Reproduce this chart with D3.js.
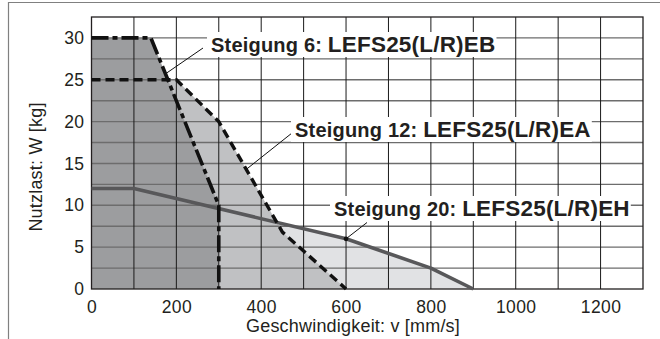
<!DOCTYPE html>
<html>
<head>
<meta charset="utf-8">
<script src="https://cdn.jsdelivr.net/npm/d3@7"></script>
<style>
  html, body { margin: 0; padding: 0; background: #fff; }
  svg { display: block; font-family: "Liberation Sans", Arial, Helvetica, sans-serif; }
</style>
</head>
<body>
<svg id="chart" width="660" height="339"></svg>
<script>
// ---------- data ----------
const xTicks = [0, 200, 400, 600, 800, 1000, 1200];
const yTicks = [0, 5, 10, 15, 20, 25, 30];
const xGrid = [100, 200, 300, 400, 500, 600, 700, 800, 900, 1000, 1100, 1200];
const yGrid = [2.5, 5, 7.5, 10, 12.5, 15, 17.5, 20, 22.5, 25, 27.5, 30];

// Steigung 6: LEFS25(L/R)EB  (speed mm/s, payload kg)
const ebSpeed = [0, 140, 300, 300];
const ebLoad  = [30, 30, 10, 0];
// Steigung 12: LEFS25(L/R)EA
const eaSpeed = [0, 200, 300, 450, 600];
const eaLoad  = [25, 25, 20, 6.8, 0];
// Steigung 20: LEFS25(L/R)EH
const ehSpeed = [0, 100, 600, 800, 900];
const ehLoad  = [12, 12, 6, 2.5, 0];

const labelLead  = ["Steigung 6: ", "Steigung 12: ", "Steigung 20: "];
const labelModel = ["LEFS25(L/R)EB", "LEFS25(L/R)EA", "LEFS25(L/R)EH"];
// point on each curve the leader line points to (speed, load)
const leaderSpeed = [177, 365, 600];
const leaderLoad  = [25.8, 14.3, 6];

const xTitle = "Geschwindigkeit: v [mm/s]";
const yTitle = "Nutzlast: W [kg]";

// ---------- layout ----------
const svg = d3.select("#chart");
const x = d3.scaleLinear().domain([0, 1300]).range([91.5, 643]);
const y = d3.scaleLinear().domain([0, 32.5]).range([289, 17]);

// label placement (pixels): text start x, baseline y, leader start
const labelPos = [
  { tx: 211, ty: 52,  lx: 203, ly: 48 },
  { tx: 295, ty: 137, lx: 292, ly: 133 },
  { tx: 334, ty: 216, lx: 367, ly: 222.5 }
];

const zip = (a, b) => a.map((v, i) => [v, b[i]]);
const eb = zip(ebSpeed, ebLoad), ea = zip(eaSpeed, eaLoad), eh = zip(ehSpeed, ehLoad);

// outer frame (top + left)
svg.append("path").attr("d", "M8.5,339 V2.5 H660")
  .attr("fill", "none").attr("stroke", "#808080").attr("stroke-width", 1.2);

const area = d3.area().x(d => x(d[0])).y0(y(0)).y1(d => y(d[1]));
const line = d3.line().x(d => x(d[0])).y(d => y(d[1]));

svg.append("path").datum(eh).attr("d", area).attr("fill", "#e1e2e4");
svg.append("path").datum(ea).attr("d", area).attr("fill", "#c0c1c3");
svg.append("path").datum(eb.slice(0, 3)).attr("d", area).attr("fill", "#9c9d9f");

// grid
const g = svg.append("g");
g.selectAll("line.h").data(yGrid).join("line")
  .attr("x1", x(0)).attr("x2", x(1300))
  .attr("y1", d => y(d)).attr("y2", d => y(d))
  .attr("stroke", "#6d6d6d").attr("stroke-width", 1.4);
g.selectAll("line.v").data(xGrid).join("line")
  .attr("y1", y(0)).attr("y2", y(32.5))
  .attr("x1", d => x(d)).attr("x2", d => x(d))
  .attr("stroke", "#1a1a1a").attr("stroke-width", 1);

// plot border
svg.append("rect").attr("x", x(0)).attr("y", y(32.5))
  .attr("width", x(1300) - x(0)).attr("height", y(0) - y(32.5))
  .attr("fill", "none").attr("stroke", "#231f20").attr("stroke-width", 1.3);

// axes (no tick marks, labels only)
const xAxis = d3.axisBottom(x).tickValues(xTicks).tickFormat(d3.format("d")).tickSize(0).tickPadding(12);
const yAxis = d3.axisLeft(y).tickValues(yTicks).tickFormat(d3.format("d")).tickSize(0).tickPadding(7);
const gx = svg.append("g").attr("transform", `translate(0,${y(0)})`).call(xAxis);
const gy = svg.append("g").attr("transform", `translate(${x(0)},0)`).call(yAxis);
[gx, gy].forEach(a => {
  a.select(".domain").remove();
  a.selectAll("text").attr("font-family", "Liberation Sans, Arial, sans-serif")
    .attr("font-size", 17.5).attr("letter-spacing", 0.4).attr("fill", "#231f20");
});
gx.selectAll("text").attr("dy", "0.71em");

// curves
svg.append("path").datum(eh).attr("d", line).attr("fill", "none")
  .attr("stroke", "#58585a").attr("stroke-width", 3.6).attr("stroke-linejoin", "round");
svg.append("path").datum(ea).attr("d", line).attr("fill", "none")
  .attr("stroke", "#111").attr("stroke-width", 3.4).attr("stroke-dasharray", "9,5");
svg.append("path").datum(eb).attr("d", line).attr("fill", "none")
  .attr("stroke", "#111").attr("stroke-width", 3.6).attr("stroke-dasharray", "17,4,5,4");

// annotations
labelPos.forEach((p, i) => {
  const grp = svg.append("g");
  const tx = x(leaderSpeed[i]), ty = y(leaderLoad[i]);
  grp.append("line").attr("x1", p.lx).attr("y1", p.ly).attr("x2", tx).attr("y2", ty)
    .attr("stroke", "#111").attr("stroke-width", 1);
  if (i === 2) grp.append("circle").attr("cx", tx).attr("cy", ty).attr("r", 2.4).attr("fill", "#111");
  const box = grp.append("rect").attr("fill", "#fff");
  const t = grp.append("text").attr("x", p.tx).attr("y", p.ty)
    .attr("font-weight", "bold").attr("fill", "#231f20").attr("letter-spacing", 0.2);
  t.append("tspan").attr("font-size", 20).text(labelLead[i]);
  t.append("tspan").attr("font-size", 22.5).text(labelModel[i]);
  const bb = t.node().getBBox();
  box.attr("x", bb.x - 4).attr("y", bb.y).attr("width", bb.width + 5).attr("height", bb.height);
});

// axis titles
svg.append("text").attr("x", 353).attr("y", 332).attr("text-anchor", "middle")
  .attr("font-size", 18).attr("letter-spacing", 0.2).attr("fill", "#231f20").text(xTitle);
svg.append("text").attr("transform", "translate(42,167) rotate(-90)").attr("text-anchor", "middle")
  .attr("font-size", 18).attr("letter-spacing", 0.2).attr("fill", "#231f20").text(yTitle);
</script>
</body>
</html>
